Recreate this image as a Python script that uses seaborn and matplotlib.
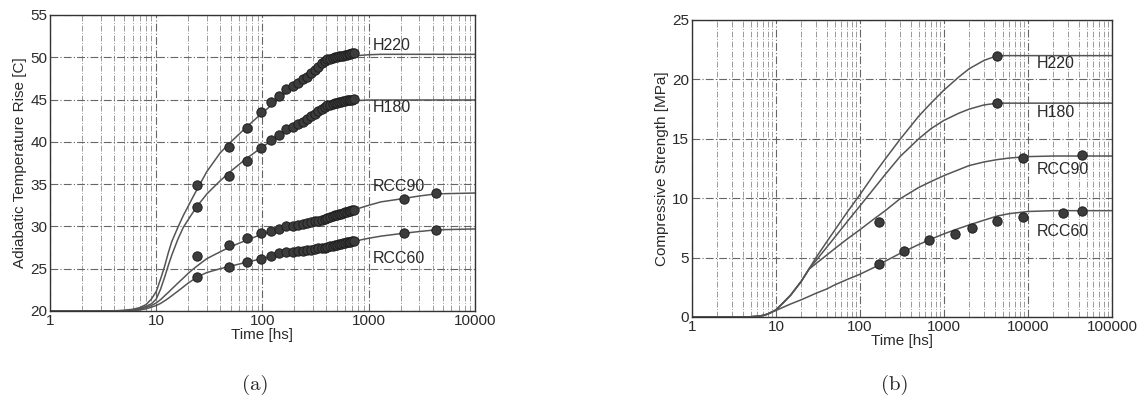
import numpy as np
import pandas as pd
import seaborn as sns
import matplotlib.pyplot as plt
from matplotlib.ticker import FixedLocator, NullFormatter

# ---- panel (a): adiabatic temperature rise ----
a_curve_time = [1, 4, 5, 6, 7, 8, 9, 10, 11, 12, 13, 14, 16, 18, 20, 22, 25, 30, 40, 50, 70,
                100, 150, 200, 300, 400, 500, 700, 1000, 1300, 2000, 3000, 4320, 10000]
a_h220_curve = [20, 20.02, 20.08, 20.2, 20.4, 20.75, 21.4, 22.3, 23.8, 25.3, 26.9, 28.2, 29.9,
                31.3, 32.4, 33.4, 34.7, 36.5, 38.7, 39.95, 41.7, 43.45, 45.3, 46.7, 48.2, 49.2,
                49.7, 50.15, 50.3, 50.35, 50.35, 50.35, 50.35, 50.35]
a_h180_curve = [20, 20.01, 20.05, 20.12, 20.3, 20.55, 20.85, 21.4, 22.6, 24.0, 25.4, 26.6, 28.5,
                29.9, 30.8, 31.6, 32.6, 33.85, 35.4, 36.5, 38.0, 39.4, 40.95, 41.95, 43.2, 44.0,
                44.5, 44.85, 44.95, 44.95, 44.95, 44.95, 44.95, 44.95]
a_rcc90_curve = [20, 20.01, 20.03, 20.08, 20.2, 20.4, 20.65, 20.95, 21.35, 21.8, 22.2, 22.6, 23.3,
                 23.9, 24.45, 24.9, 25.45, 26.2, 27.0, 27.6, 28.35, 29.1, 29.75, 30.2, 30.7, 31.05,
                 31.35, 31.9, 32.5, 32.9, 33.25, 33.6, 33.85, 33.95]
a_rcc60_curve = [20, 20.0, 20.02, 20.05, 20.12, 20.25, 20.45, 20.65, 20.9, 21.2, 21.5, 21.8, 22.35,
                 22.85, 23.3, 23.65, 24.1, 24.55, 25.0, 25.3, 25.75, 26.2, 26.7, 27.0, 27.35, 27.65,
                 27.85, 28.2, 28.6, 28.85, 29.15, 29.4, 29.6, 29.7]

# measured points: daily readings for the first week, then dense readings to 720 h
a_early_time = [24, 48, 72, 96, 120, 144]
a_dense_time = [168, 192, 216, 240, 264, 288, 312, 336, 360, 384, 408, 432,
                456, 480, 504, 528, 552, 576, 600, 624, 648, 672, 696, 720]
a_h220_early = [34.9, 39.4, 41.6, 43.5, 44.7, 45.4]
a_h220_dense = [46.3, 46.6, 47.0, 47.4, 47.7, 48.1, 48.5, 48.9, 49.3, 49.6, 49.75, 49.85,
                49.95, 50.0, 50.05, 50.1, 50.15, 50.2, 50.25, 50.3, 50.35, 50.4, 50.45, 50.5]
a_h180_early = [32.3, 36.0, 37.7, 39.3, 40.2, 40.8]
a_h180_dense = [41.5, 41.8, 42.1, 42.35, 42.65, 43.0, 43.35, 43.65, 43.9, 44.1, 44.3, 44.4,
                44.5, 44.58, 44.65, 44.7, 44.75, 44.8, 44.85, 44.9, 44.93, 44.97, 45.0, 45.05]
a_rcc90_early = [26.5, 27.8, 28.6, 29.2, 29.5, 29.7]
a_rcc90_dense = [30.0, 30.1, 30.2, 30.3, 30.4, 30.5, 30.6, 30.7, 30.8, 30.9, 31.0, 31.1,
                 31.2, 31.3, 31.4, 31.45, 31.5, 31.6, 31.65, 31.7, 31.8, 31.85, 31.9, 31.95]
a_rcc60_early = [24.05, 25.2, 25.75, 26.2, 26.5, 26.8]
a_rcc60_dense = [26.95, 27.0, 27.1, 27.15, 27.2, 27.27, 27.33, 27.4, 27.45, 27.5, 27.55, 27.65,
                 27.7, 27.8, 27.85, 27.9, 27.95, 28.0, 28.05, 28.1, 28.15, 28.2, 28.25, 28.3]
a_late_time = [2160, 4320]
a_rcc90_late = [33.3, 33.9]
a_rcc60_late = [29.2, 29.6]

a_xticks = [1, 10, 100, 1000, 10000]
a_xticklabels = ['1', '10', '100', '1000', '10000']
a_yticks = [20, 25, 30, 35, 40, 45, 50, 55]

# ---- panel (b): compressive strength ----
b_curve_time = [1, 4, 5, 6, 7, 8, 10, 12, 15, 20, 25, 30, 40, 50, 70, 100, 150, 200, 300,
                500, 700, 1000, 1500, 2000, 3000, 4320, 6000, 10000, 20000, 100000]
b_h220_curve = [0, 0, 0.02, 0.06, 0.13, 0.25, 0.6, 1.15, 1.85, 3.0, 4.1, 5.0, 6.3, 7.3, 8.8,
                10.3, 12.1, 13.3, 14.95, 16.9, 18.0, 19.1, 20.2, 20.9, 21.6, 22.0, 22.0, 22.0,
                22.0, 22.0]
b_h180_curve = [0, 0, 0.02, 0.06, 0.13, 0.25, 0.6, 1.15, 1.85, 3.0, 4.1, 4.75, 5.85, 6.7, 8.0,
                9.35, 10.9, 12.0, 13.5, 15.0, 15.85, 16.55, 17.15, 17.5, 17.85, 18.0, 18.0, 18.0,
                18.0, 18.0]
b_rcc90_curve = [0, 0, 0.02, 0.06, 0.13, 0.25, 0.6, 1.15, 1.85, 3.0, 4.05, 4.5, 5.2, 5.75, 6.55,
                 7.35, 8.3, 8.95, 9.95, 10.9, 11.4, 11.9, 12.4, 12.75, 13.05, 13.25, 13.38, 13.5,
                 13.55, 13.55]
b_rcc60_curve = [0, 0, 0.02, 0.06, 0.13, 0.25, 0.55, 0.8, 1.1, 1.45, 1.75, 2.0, 2.35, 2.7, 3.15,
                 3.6, 4.2, 4.7, 5.35, 6.1, 6.55, 7.0, 7.45, 7.75, 8.15, 8.5, 8.7, 8.88, 8.95, 8.95]

b_h220_pts_t, b_h220_pts = [4320], [22.0]
b_h180_pts_t, b_h180_pts = [4320], [18.0]
b_rcc90_pts_t, b_rcc90_pts = [168, 8760, 43800], [8.0, 13.4, 13.6]
b_rcc60_pts_t = [168, 336, 672, 1344, 2184, 4320, 8760, 26280, 43800]
b_rcc60_pts = [4.45, 5.55, 6.5, 7.0, 7.5, 8.05, 8.45, 8.75, 8.95]

b_xticks = [1, 10, 100, 1000, 10000, 100000]
b_xticklabels = ['1', '10', '100', '1000', '10000', '100000']
b_yticks = [0, 5, 10, 15, 20, 25]

series_names = ['H220', 'H180', 'RCC90', 'RCC60']

sns.set_style('white')
plt.rcParams['font.family'] = ['Liberation Sans', 'DejaVu Sans']

line_c = '#555555'
dot_c = '#3c3c3c'
ink = '#2a2a2a'
dash = (0, (7, 2, 1, 2))

fig = plt.figure(figsize=(11.46, 4.03), dpi=100)
ax_a = fig.add_axes([0.0436, 0.2283, 0.3709, 0.7345])
ax_b = fig.add_axes([0.6038, 0.2134, 0.3665, 0.737])


def style_axes(ax, xticks, xlabels, yticks, xlim, ylim):
    ax.set_xscale('log')
    ax.set_xlim(*xlim)
    ax.set_ylim(*ylim)
    ax.xaxis.set_major_locator(FixedLocator(xticks))
    ax.set_xticks(xticks, xlabels)
    ax.xaxis.set_minor_formatter(NullFormatter())
    ax.set_yticks(yticks)
    ax.grid(True, which='major', color='#666666', ls=dash, lw=0.8)
    ax.grid(True, which='minor', axis='x', color='#8a8a8a', ls=dash, lw=0.6)
    ax.tick_params(axis='both', which='major', direction='in', length=3, pad=2,
                   labelsize=11, colors=ink)
    ax.tick_params(axis='x', which='minor', direction='in', length=2, color=ink)
    for s in ax.spines.values():
        s.set_color('#333333')
        s.set_linewidth(1.0)
    ax.set_xlabel('Time [hs]', fontsize=11, color=ink, labelpad=0)


# panel (a)
a_curves = [a_h220_curve, a_h180_curve, a_rcc90_curve, a_rcc60_curve]
for vals in a_curves:
    sns.lineplot(x=a_curve_time, y=vals, ax=ax_a, color=line_c, lw=1.1,
                 estimator=None, sort=False)
a_pts = [(a_early_time + a_dense_time, a_h220_early + a_h220_dense),
         (a_early_time + a_dense_time, a_h180_early + a_h180_dense),
         (a_early_time + a_dense_time + a_late_time, a_rcc90_early + a_rcc90_dense + a_rcc90_late),
         (a_early_time + a_dense_time + a_late_time, a_rcc60_early + a_rcc60_dense + a_rcc60_late)]
for t, v in a_pts:
    sns.scatterplot(x=t, y=v, ax=ax_a, s=45, color=dot_c, edgecolor='#1e1e1e',
                    linewidth=0.7, zorder=3)
style_axes(ax_a, a_xticks, a_xticklabels, a_yticks, (1, 10000), (20, 55))
ax_a.set_ylabel('Adiabatic Temperature Rise [C]', fontsize=11, color=ink, labelpad=2)
a_label_y = [51.4, 44.1, 34.7, 26.2]
for name, y in zip(series_names, a_label_y):
    ax_a.text(1100, y, name, fontsize=11.5, color=ink, va='center', ha='left')

# panel (b)
b_curves = [b_h220_curve, b_h180_curve, b_rcc90_curve, b_rcc60_curve]
for vals in b_curves:
    sns.lineplot(x=b_curve_time, y=vals, ax=ax_b, color=line_c, lw=1.1,
                 estimator=None, sort=False)
b_pts = [(b_h220_pts_t, b_h220_pts), (b_h180_pts_t, b_h180_pts),
         (b_rcc90_pts_t, b_rcc90_pts), (b_rcc60_pts_t, b_rcc60_pts)]
for t, v in b_pts:
    sns.scatterplot(x=t, y=v, ax=ax_b, s=45, color=dot_c, edgecolor='#1e1e1e',
                    linewidth=0.7, zorder=3)
style_axes(ax_b, b_xticks, b_xticklabels, b_yticks, (1, 100000), (0, 25))
ax_b.set_ylabel('Compressive Strength [MPa]', fontsize=11, color=ink, labelpad=2)
b_label_y = [21.3, 17.2, 12.4, 7.2]
for name, y in zip(series_names, b_label_y):
    ax_b.text(12800, y, name, fontsize=11.5, color=ink, va='center', ha='left')

fig.text(0.2225, 0.045, '(a)', fontsize=15, family='cmr10', ha='center', va='center')
fig.text(0.781, 0.045, '(b)', fontsize=15, family='cmr10', ha='center', va='center')

fig.savefig('out.png', dpi=100)
plt.close(fig)
